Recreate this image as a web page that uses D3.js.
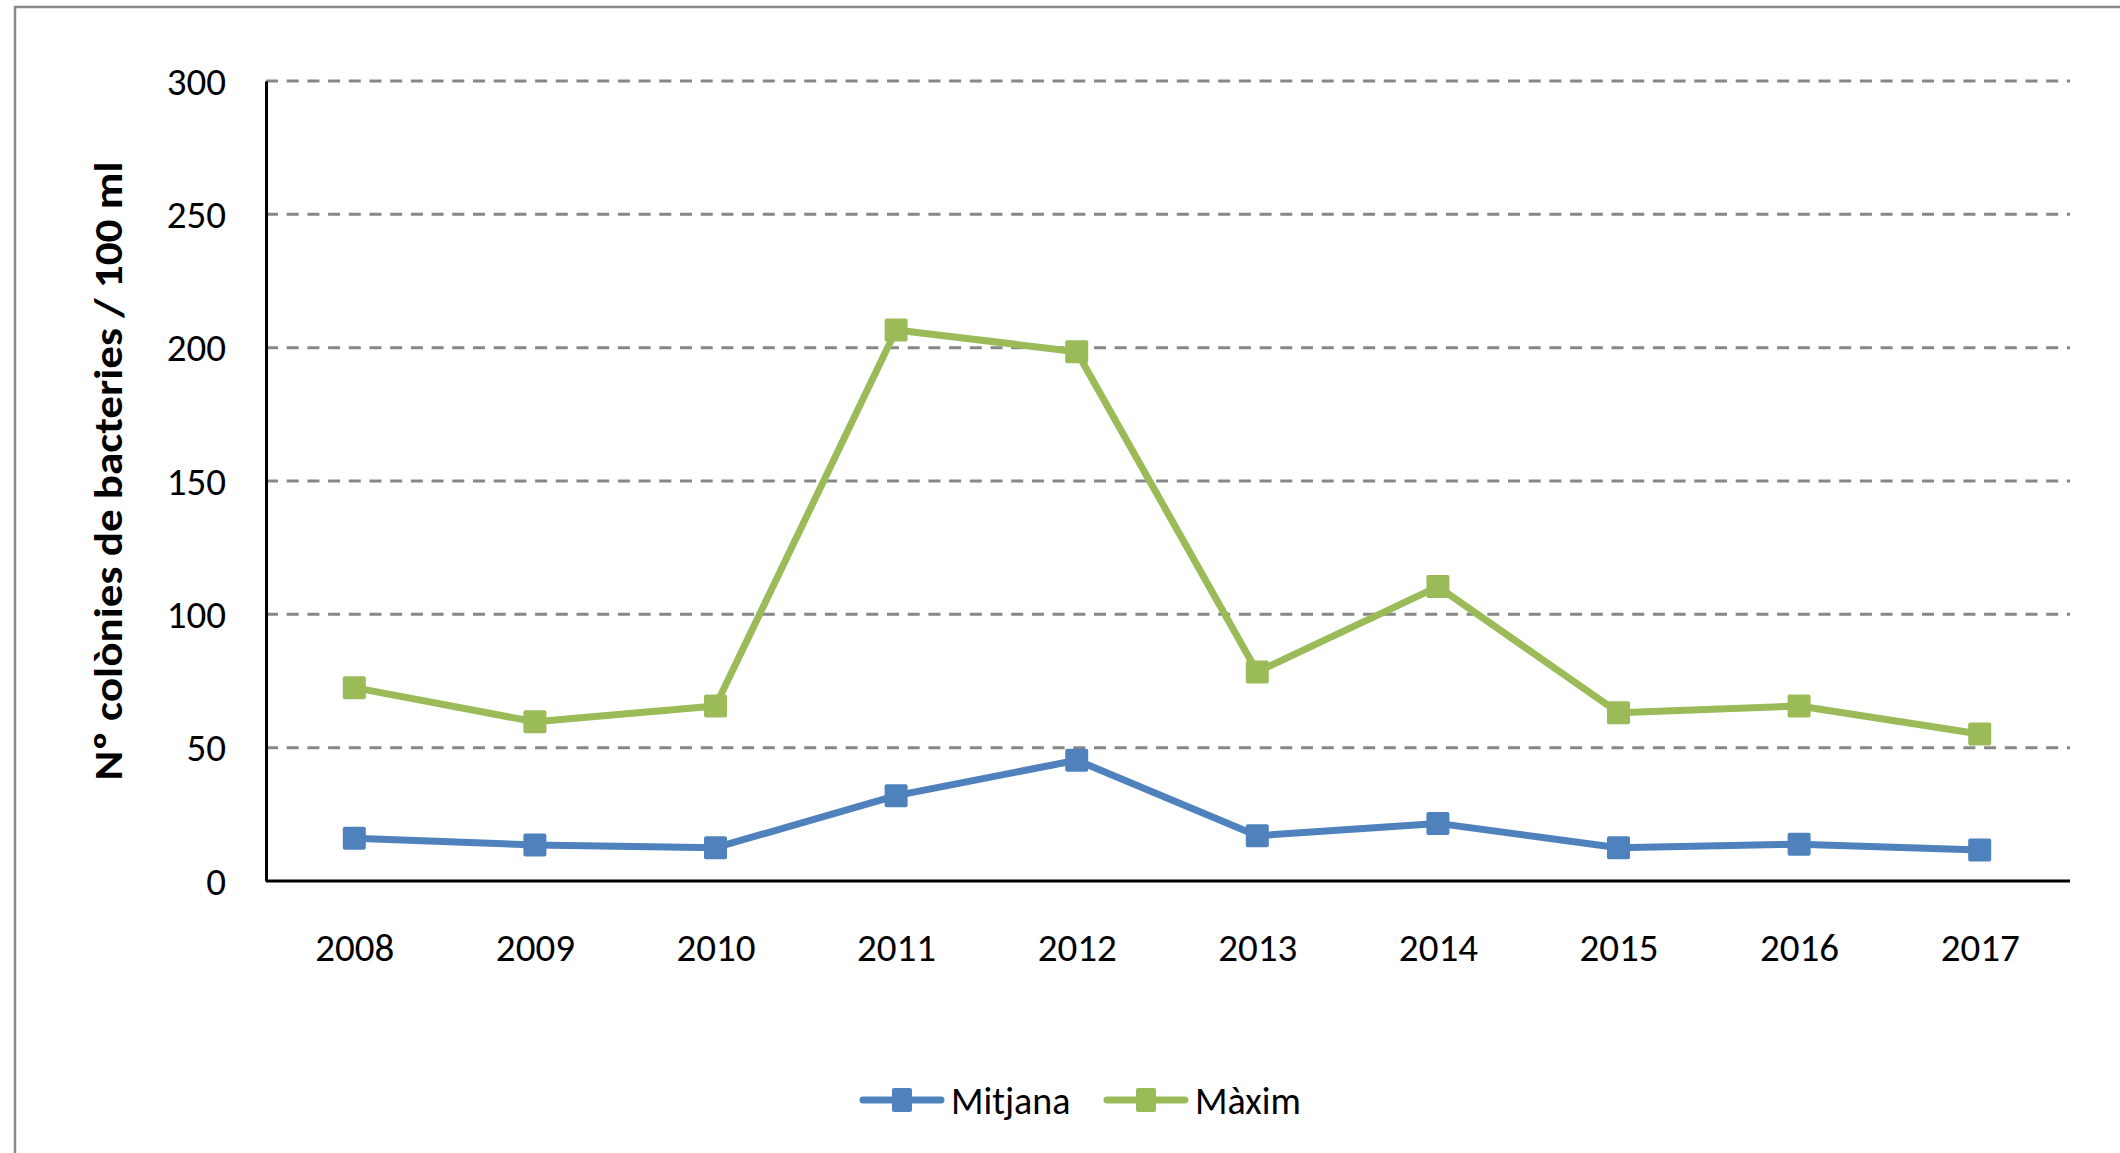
<!DOCTYPE html>
<html>
<head>
<meta charset="utf-8">
<script src="https://cdn.jsdelivr.net/npm/d3@7"></script>
<style>
  html, body { margin: 0; padding: 0; background: #ffffff; overflow: hidden; }
  text { font-family: Carlito, Calibri, Lato, sans-serif; fill: #000; }
</style>
</head>
<body>
<svg width="2120" height="1153"></svg>
<script>
// ***********************************
// Chart data

var years = ["2008", "2009", "2010", "2011", "2012", "2013", "2014", "2015", "2016", "2017"];
var mitjana = [16, 13.5, 12.5, 32, 45.3, 17, 21.6, 12.5, 13.8, 11.6];
var maxim = [72.5, 59.7, 65.6, 206.6, 198.5, 78.4, 110.4, 63.1, 65.6, 55.1];
var yTicks = [0, 50, 100, 150, 200, 250, 300];
var seriesNames = ["Mitjana", "Màxim"];
var seriesColors = ["#4f81bd", "#9bbb59"];

// ***********************************
// Basic setup

var svg = d3.select("svg");

// outer chart frame (runs off the right and bottom edges)
svg.append("rect")
  .attr("x", 15)
  .attr("y", 7)
  .attr("width", 2300)
  .attr("height", 1300)
  .attr("fill", "none")
  .attr("stroke", "#8a8a8a")
  .attr("stroke-width", 2.5);

var plot = { left: 264, right: 2070, top: 81, bottom: 881 };

var x = d3.scalePoint()
  .domain(years)
  .range([plot.left, plot.right])
  .padding(0.5);

var y = d3.scaleLinear()
  .domain([0, 300])
  .range([plot.bottom, plot.top]);

// ***********************************
// Gridlines and axes

svg.append("g")
  .selectAll("line")
  .data(yTicks.filter(function(d) { return d > 0; }))
  .enter().append("line")
  .attr("x1", plot.left + 2)
  .attr("x2", plot.right)
  .attr("y1", function(d) { return y(d); })
  .attr("y2", function(d) { return y(d); })
  .attr("stroke", "#878787")
  .attr("stroke-width", 3)
  .attr("stroke-dasharray", "12,8.7");

var yAxis = svg.append("g")
  .attr("transform", "translate(" + (plot.left + 2) + ",0)")
  .call(d3.axisLeft(y).tickValues(yTicks).tickSize(0).tickPadding(40));
yAxis.select(".domain").attr("stroke", "#000").attr("stroke-width", 3);
yAxis.selectAll("text")
  .style("font-size", "39px")
  .attr("dy", "0.34em");

var xAxis = svg.append("g")
  .attr("transform", "translate(0," + plot.bottom + ")")
  .call(d3.axisBottom(x).tickSize(0).tickPadding(52));
xAxis.select(".domain")
  .attr("d", "M" + (plot.left + 2) + ",0H" + plot.right)
  .attr("stroke", "#000").attr("stroke-width", 3);
xAxis.selectAll("text")
  .style("font-size", "39px");

// y axis title
svg.append("text")
  .attr("transform", "translate(122,471) rotate(-90)")
  .attr("text-anchor", "middle")
  .attr("textLength", 619)
  .attr("lengthAdjust", "spacingAndGlyphs")
  .style("font-size", "40px")
  .style("font-weight", "bold")
  .text("Nº colònies de bacteries / 100 ml");

// ***********************************
// Lines and markers

var series = [mitjana, maxim];

var line = d3.line()
  .x(function(d, i) { return x(years[i]); })
  .y(function(d) { return y(d); });

series.forEach(function(values, s) {
  var g = svg.append("g").attr("class", "series");
  g.append("path")
    .datum(values)
    .attr("d", line)
    .attr("fill", "none")
    .attr("stroke", seriesColors[s])
    .attr("stroke-width", 7)
    .attr("stroke-linejoin", "round");
  g.selectAll("rect")
    .data(values)
    .enter().append("rect")
    .attr("x", function(d, i) { return x(years[i]) - 11.5; })
    .attr("y", function(d) { return y(d) - 11.5; })
    .attr("width", 23)
    .attr("height", 23)
    .attr("rx", 2)
    .attr("fill", seriesColors[s]);
});

// ***********************************
// Legend

var legendX = [863, 1107];
var legend = svg.append("g").attr("transform", "translate(0,1100)");
seriesNames.forEach(function(name, s) {
  var lx = legendX[s];
  legend.append("line")
    .attr("x1", lx).attr("x2", lx + 78)
    .attr("y1", 0).attr("y2", 0)
    .attr("stroke", seriesColors[s])
    .attr("stroke-width", 7)
    .attr("stroke-linecap", "round");
  legend.append("rect")
    .attr("x", lx + 39 - 10).attr("y", -12)
    .attr("width", 20).attr("height", 24)
    .attr("rx", 2)
    .attr("fill", seriesColors[s]);
  legend.append("text")
    .attr("x", lx + 88)
    .attr("y", 0)
    .attr("dy", "0.36em")
    .style("font-size", "38px")
    .text(name);
});
</script>
</body>
</html>
